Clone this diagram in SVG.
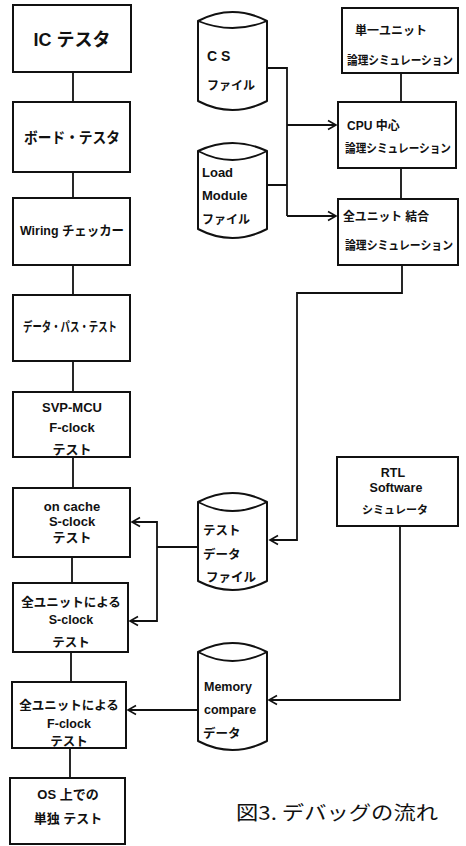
<svg xmlns="http://www.w3.org/2000/svg" width="466" height="846" viewBox="0 0 466 846">
<style>
.box{fill:#fff;stroke:#111;stroke-width:2}
.cyl{fill:#fff;stroke:#111;stroke-width:2;stroke-linejoin:round}
.ln{fill:none;stroke:#111;stroke-width:1.8}
.t{font-family:"Liberation Sans","Noto Sans CJK JP",sans-serif;fill:#111;font-weight:bold}
.c{text-anchor:middle}
.cap{font-family:"Noto Sans CJK JP","Liberation Sans",sans-serif;fill:#111;font-weight:normal}
</style>
<defs>
<marker id="arr" markerWidth="12" markerHeight="12" refX="10" refY="6" orient="auto" markerUnits="userSpaceOnUse">
<path d="M2,1.5 L10,6 L2,10.5" fill="none" stroke="#111" stroke-width="1.6"/>
</marker>
</defs>
<rect width="466" height="846" fill="#fff"/>
<g id="connectors">
<path class="ln" d="M73,72 V102 M73,172 V198 M73,265 V295 M73,361 V392 M73,457 V488 M72,557 V583 M71,652 V682 M70,748 V778"/>
<path class="ln" d="M401,73 V102 M401,168 V199"/>
<path class="ln" d="M267,68 H287 V216 M267,185 H287"/>
<path class="ln" d="M287,125 H336" marker-end="url(#arr)"/>
<path class="ln" d="M287,216 H336" marker-end="url(#arr)"/>
<path class="ln" d="M402,265 V293 H297 V540 H270" marker-end="url(#arr)"/>
<path class="ln" d="M198,547 H157"/>
<path class="ln" d="M157,547 V522 H132" marker-end="url(#arr)"/>
<path class="ln" d="M157,547 V621 H130" marker-end="url(#arr)"/>
<path class="ln" d="M400,526 V700 H269" marker-end="url(#arr)"/>
<path class="ln" d="M198,710 H128" marker-end="url(#arr)"/>
</g>
<g id="ic"><rect class="box" x="13" y="5" width="118" height="67"/><text class="t c" x="72" y="46" font-size="18">IC テスタ</text></g>
<g id="board"><rect class="box" x="13" y="102" width="117" height="70"/><text class="t c" x="72" y="143" font-size="15" textLength="96" lengthAdjust="spacingAndGlyphs">ボード・テスタ</text></g>
<g id="wiring"><rect class="box" x="13" y="198" width="117" height="67"/><text class="t c" x="72" y="235" font-size="13" textLength="104" lengthAdjust="spacingAndGlyphs">Wiring チェッカー</text></g>
<g id="datapath"><rect class="box" x="13" y="295" width="117" height="66"/><text class="t c" x="70" y="331" font-size="13" textLength="94" lengthAdjust="spacingAndGlyphs">データ・パス・テスト</text></g>
<g id="svp"><rect class="box" x="13" y="392" width="117" height="65"/><text class="t c" font-size="13"><tspan x="72" y="412">SVP-MCU</tspan><tspan x="72" y="432">F-clock</tspan><tspan x="72" y="454">テスト</tspan></text></g>
<g id="oncache"><rect class="box" x="13" y="488" width="117" height="69"/><text class="t c" font-size="13"><tspan x="72" y="511">on cache</tspan><tspan x="72" y="526">S-clock</tspan><tspan x="72" y="542">テスト</tspan></text></g>
<g id="sclock"><rect class="box" x="13" y="583" width="115" height="69"/><text class="t c" font-size="12.5"><tspan x="71" y="607">全ユニットによる</tspan><tspan x="71" y="624">S-clock</tspan><tspan x="71" y="647">テスト</tspan></text></g>
<g id="fclock"><rect class="box" x="12" y="682" width="114" height="66"/><text class="t c" font-size="12.5"><tspan x="69" y="710">全ユニットによる</tspan><tspan x="69" y="728">F-clock</tspan><tspan x="69" y="746">テスト</tspan></text></g>
<g id="os"><rect class="box" x="10" y="778" width="115" height="66"/><text class="t c" font-size="13"><tspan x="68" y="799">OS 上での</tspan><tspan x="68" y="823">単独 テスト</tspan></text></g>
<g id="cs"><path class="cyl" d="M198,21 Q232.5,3 267,21 L267,101 Q232.5,119 198,101 Z"/><path class="ln" d="M198,21 Q232.5,35 267,21"/><text class="t" font-size="14"><tspan x="207" y="61">C  S</tspan><tspan x="207" y="90" font-size="12">ファイル</tspan></text></g>
<g id="load"><path class="cyl" d="M198,151 Q232.5,135 267,151 L267,229 Q232.5,247 198,229 Z"/><path class="ln" d="M198,151 Q232.5,169 267,151"/><text class="t" font-size="13"><tspan x="202" y="177">Load</tspan><tspan x="202" y="200">Module</tspan><tspan x="202" y="224" font-size="12">ファイル</tspan></text></g>
<g id="testdata"><path class="cyl" d="M198,502 Q232.5,484 267,502 L267,581 Q232.5,599 198,581 Z"/><path class="ln" d="M198,502 Q232.5,520 267,502"/><text class="t" font-size="12.5"><tspan x="203" y="535">テスト</tspan><tspan x="203" y="559">データ</tspan><tspan x="206" y="582">ファイル</tspan></text></g>
<g id="memory"><path class="cyl" d="M198,652 Q232.5,634 267,652 L267,741 Q232.5,759 198,741 Z"/><path class="ln" d="M198,652 Q232.5,670 267,652"/><text class="t" font-size="12.5"><tspan x="204" y="691">Memory</tspan><tspan x="204" y="714">compare</tspan><tspan x="203" y="738">データ</tspan></text></g>
<g id="single"><rect class="box" x="342" y="8" width="116" height="65"/><text class="t" font-size="12"><tspan x="355" y="35" textLength="72" lengthAdjust="spacingAndGlyphs">単一ユニット</tspan><tspan x="347" y="65" textLength="106" lengthAdjust="spacingAndGlyphs">論理シミュレーション</tspan></text></g>
<g id="cpu"><rect class="box" x="338" y="102" width="118" height="66"/><text class="t" font-size="12"><tspan x="347" y="130">CPU 中心</tspan><tspan x="345" y="153" textLength="106" lengthAdjust="spacingAndGlyphs">論理シミュレーション</tspan></text></g>
<g id="allunit"><rect class="box" x="338" y="199" width="120" height="66"/><text class="t" font-size="12"><tspan x="343" y="221" textLength="86" lengthAdjust="spacingAndGlyphs">全ユニット 結合</tspan><tspan x="345" y="250" textLength="108" lengthAdjust="spacingAndGlyphs">論理シミュレーション</tspan></text></g>
<g id="rtl"><rect class="box" x="337" y="457" width="121" height="69"/><text class="t c" font-size="12.5"><tspan x="393" y="477">RTL</tspan><tspan x="396" y="492">Software</tspan><tspan x="395" y="514" font-size="11">シミュレータ</tspan></text></g>
<g id="caption"><text class="cap" x="236" y="820" font-size="19" textLength="202" lengthAdjust="spacingAndGlyphs">図3. デバッグの流れ</text></g>
</svg>
